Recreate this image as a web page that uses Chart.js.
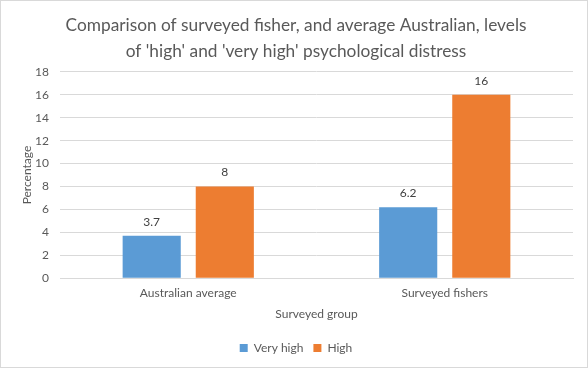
<!DOCTYPE html>
<html><head><meta charset="utf-8">
<script src="https://cdn.jsdelivr.net/npm/chart.js@4/dist/chart.umd.min.js"></script>
<style>
html,body{margin:0;padding:0;background:#fff;}
#wrap{position:absolute;left:0;top:0;width:586px;height:366px;border:1px solid #d9d9d9;}
</style></head>
<body><div id="wrap"><canvas id="c" width="586" height="366"></canvas></div>
<script>
const categories = ["Australian average", "Surveyed fishers"];
const veryHigh = [3.7, 6.2];
const high = [8, 16];
const seriesNames = ["Very high", "High"];
const titleLines = ["Comparison of surveyed fisher, and average Australian, levels", "of 'high' and 'very high' psychological distress"];

const FONT = "Lato, 'Open Sans', sans-serif";
const labelPlugin = {
  id: 'barLabels',
  afterDatasetsDraw(chart) {
    const ctx = chart.ctx;
    ctx.save();
    ctx.font = "12px " + FONT;
    ctx.fillStyle = "#404040";
    ctx.textAlign = "center";
    ctx.textBaseline = "middle";
    chart.data.datasets.forEach((ds, i) => {
      chart.getDatasetMeta(i).data.forEach((el, j) => {
        ctx.fillText(String(ds.data[j]), el.x, el.y - 14);
      });
    });
    ctx.restore();
  }
};

new Chart(document.getElementById('c'), {
  type: 'bar',
  data: {
    labels: categories,
    datasets: [
      {label: seriesNames[0], data: veryHigh, backgroundColor: '#5B9BD5', categoryPercentage: 0.57, barPercentage: 0.795},
      {label: seriesNames[1], data: high, backgroundColor: '#ED7D31', categoryPercentage: 0.57, barPercentage: 0.795}
    ]
  },
  options: {
    responsive: false,
    animation: false,
    layout: {padding: {left: 18, right: 14, top: 8, bottom: 3}},
    plugins: {
      title: {display: true, text: titleLines, color: '#595959', font: {family: FONT, size: 17.3, weight: 'normal', lineHeight: 1.47}, padding: {top: 4, bottom: 8}},
      legend: {position: 'bottom', labels: {color: '#595959', font: {family: FONT, size: 12}, boxWidth: 8, boxHeight: 8, padding: 10}},
      tooltip: {enabled: false}
    },
    scales: {
      x: {
        grid: {display: false},
        border: {color: '#d9d9d9'},
        ticks: {color: '#595959', font: {family: FONT, size: 12}, padding: 0},
        title: {display: true, text: 'Surveyed group', color: '#595959', font: {family: FONT, size: 12}, padding: {top: 6, bottom: 11}}
      },
      y: {
        min: 0, max: 18,
        afterFit(scale) { scale.width = 41; },
        ticks: {stepSize: 2, color: '#595959', font: {family: FONT, size: 12}, padding: 11},
        grid: {color: '#d9d9d9', drawTicks: false},
        border: {display: false},
        title: {display: true, text: 'Percentage', color: '#595959', font: {family: FONT, size: 12}, padding: {top: 1, bottom: 2}}
      }
    }
  },
  plugins: [labelPlugin]
});
</script></body></html>
